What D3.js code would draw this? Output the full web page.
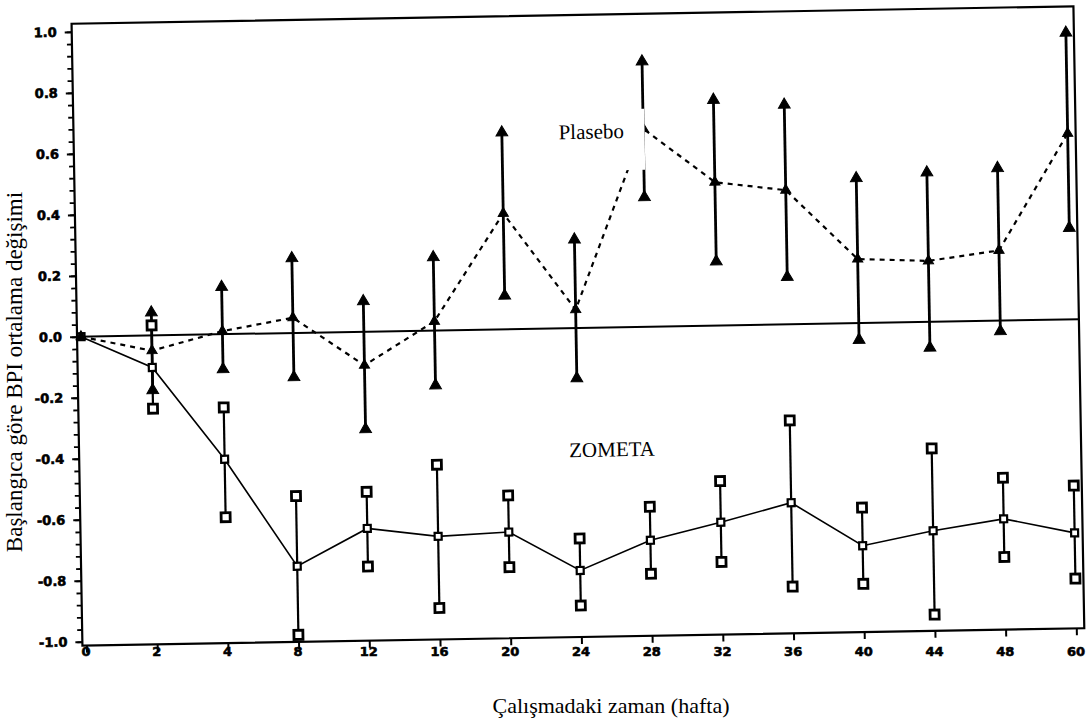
<!DOCTYPE html>
<html><head><meta charset="utf-8">
<script src="https://cdn.jsdelivr.net/npm/d3@7"></script>
<style>body{margin:0;background:#fff}svg{display:block}</style>
</head><body><svg id="c" width="1088" height="724"></svg>
<script>
// ---- data ----
const weeks = ["0","2","4","8","12","16","20","24","28","32","36","40","44","48","60"];
const placeboMean  = [0, -0.05, 0.01, 0.05, -0.11, 0.03, 0.38, 0.06, 0.65, 0.47, 0.44, 0.21, 0.20, 0.23, 0.61];
const placeboUpper = [0, 0.075, 0.155, 0.245, 0.10, 0.24, 0.645, 0.29, 0.87, 0.74, 0.72, 0.475, 0.49, 0.50, 0.94];
const placeboLower = [0, -0.18, -0.115, -0.145, -0.32, -0.18, 0.11, -0.165, 0.425, 0.21, 0.155, -0.055, -0.085, -0.035, 0.30];
const zometaMean   = [0, -0.105, -0.41, -0.765, -0.645, -0.675, -0.665, -0.795, -0.70, -0.645, -0.585, -0.73, -0.685, -0.65, -0.70];
const zometaUpper  = [0, 0.033, -0.24, -0.535, -0.525, -0.44, -0.545, -0.69, -0.59, -0.51, -0.315, -0.605, -0.415, -0.515, -0.545];
const zometaLower  = [0, -0.24, -0.60, -0.99, -0.77, -0.91, -0.78, -0.91, -0.81, -0.775, -0.86, -0.855, -0.96, -0.775, -0.85];
const yTickValues = [1.0, 0.8, 0.6, 0.4, 0.2, 0.0, -0.2, -0.4, -0.6, -0.8, -1.0];
const yTickLabels = ["1.0","0.8","0.6","0.4","0.2","0.0","-0.2","-0.4","-0.6","-0.8","-1.0"];
const seriesNames = ["Plasebo", "ZOMETA"];
const xTitle = "Çalışmadaki zaman (hafta)";
const yTitle = "Başlangıca göre BPI ortalama değişimi";

// ---- layout ----
const svg = d3.select("#c");
svg.append("rect").attr("width",1088).attr("height",724).attr("fill","#fff");
const frame = {left:77, right:1079, top:15, bottom:637};
const x = d3.scalePoint().domain(weeks).range([81, 1071]);
const y = d3.scaleLinear().domain([-1, 1]).range([633, 23]);
const tickFont = "'DejaVu Sans', sans-serif";
const serif = "'Liberation Serif', 'DejaVu Serif', serif";

// slightly tilted scan
const g = svg.append("g").attr("transform", "rotate(-1,578,330)");

// minor y ticks
const minor = d3.range(-1, 1.0001, 0.04);
g.append("g").attr("transform", `translate(${frame.left},0)`)
  .call(d3.axisLeft(y).tickValues(minor).tickSize(5).tickFormat(""))
  .call(s => s.select(".domain").remove())
  .selectAll("line").attr("stroke","#000").attr("stroke-width",1.8);
// major y ticks
const ya = g.append("g").attr("transform", `translate(${frame.left},0)`)
  .call(d3.axisLeft(y).tickValues(yTickValues).tickSize(7).tickPadding(8)
        .tickFormat((d,i) => yTickLabels[i]));
ya.select(".domain").remove();
ya.selectAll("line").attr("stroke","#000").attr("stroke-width",2);
ya.selectAll("text").attr("font-family",tickFont).attr("font-weight","bold")
  .attr("font-size",13).attr("fill","#000").attr("stroke","#000").attr("stroke-width",0.6);

// x ticks (marks)
g.append("g").attr("transform", `translate(0,${frame.bottom})`)
  .call(d3.axisBottom(x).tickSize(7).tickFormat(""))
  .call(s => s.select(".domain").remove())
  .selectAll("line").attr("stroke","#000").attr("stroke-width",2);

// frame
g.append("rect").attr("x",frame.left).attr("y",frame.top)
  .attr("width",frame.right-frame.left).attr("height",frame.bottom-frame.top)
  .attr("fill","none").attr("stroke","#000").attr("stroke-width",2.2);

// zero reference line
g.append("line").attr("x1",frame.left).attr("x2",frame.right)
  .attr("y1",y(0)).attr("y2",y(0)).attr("stroke","#000").attr("stroke-width",2);

const line = d3.line().x((d,i) => x(weeks[i])).y(d => y(d));
const pts = vals => weeks.map((w,i) => ({w, v: vals[i], i}));

// error bars
function bars(up, lo, w) {
  const d = weeks.map((wk,i) => ({wk, u: up[i], l: lo[i], i})).filter(d => d.i > 0);
  g.append("g").selectAll("line").data(d).join("line")
    .attr("x1", d => x(d.wk)).attr("x2", d => x(d.wk))
    .attr("y1", d => y(d.u)).attr("y2", d => y(d.l))
    .attr("stroke","#000").attr("stroke-width",w);
}
bars(zometaUpper, zometaLower, 2.2);
bars(placeboUpper, placeboLower, 2.8);

// mean lines
g.append("path").datum(zometaMean).attr("d", line)
  .attr("fill","none").attr("stroke","#000").attr("stroke-width",1.6);
g.append("path").datum(placeboMean).attr("d", line)
  .attr("fill","none").attr("stroke","#000").attr("stroke-width",2.2)
  .attr("stroke-dasharray","5,5");

// markers
const tri = d3.symbol(d3.symbolTriangle);
function triangles(vals, size, skipFirst) {
  g.append("g").selectAll("path").data(pts(vals).filter(d => !(skipFirst && d.i === 0))).join("path")
    .attr("d", tri.size(size)())
    .attr("transform", d => `translate(${x(d.w)},${y(d.v)})`)
    .attr("fill","#000").attr("stroke","#000").attr("stroke-width",1);
}
function squares(vals, s, sw, skipFirst) {
  g.append("g").selectAll("rect").data(pts(vals).filter(d => !(skipFirst && d.i === 0))).join("rect")
    .attr("x", d => x(d.w) - s/2).attr("y", d => y(d.v) - s/2)
    .attr("width", s).attr("height", s)
    .attr("fill","#fff").attr("stroke","#000").attr("stroke-width",sw);
}
squares(zometaUpper, 9, 2.8, true);
squares(zometaLower, 9, 2.8, true);
squares(zometaMean, 7, 2.2, false);
triangles(placeboUpper, 60, true);
triangles(placeboLower, 60, true);
triangles(placeboMean, 45, false);

// series labels
g.append("rect").attr("x",555).attr("y",110).attr("width",93).attr("height",61).attr("fill","#fff");
g.append("text").attr("x",562).attr("y",139).text(seriesNames[0])
  .attr("font-family",serif).attr("font-size",21).attr("fill","#000");
g.append("text").attr("x",567).attr("y",457).text(seriesNames[1])
  .attr("font-family",serif).attr("font-size",21).attr("fill","#000");

// x tick labels (scan labels sit level)
svg.append("g").selectAll("text").data(weeks).join("text")
  .attr("x", d => x(d) + 5).attr("y", 656).attr("text-anchor","middle")
  .attr("font-family",tickFont).attr("font-weight","bold").attr("font-size",13)
  .attr("stroke","#000").attr("stroke-width",0.6)
  .text(d => d);

// axis titles
svg.append("text").attr("x",611).attr("y",713).attr("text-anchor","middle")
  .attr("font-family",serif).attr("font-size",22).text(xTitle);
svg.append("text").attr("transform","translate(22,372) rotate(-90)")
  .attr("text-anchor","middle").attr("font-family",serif).attr("font-size",23).text(yTitle);
</script></body></html>
